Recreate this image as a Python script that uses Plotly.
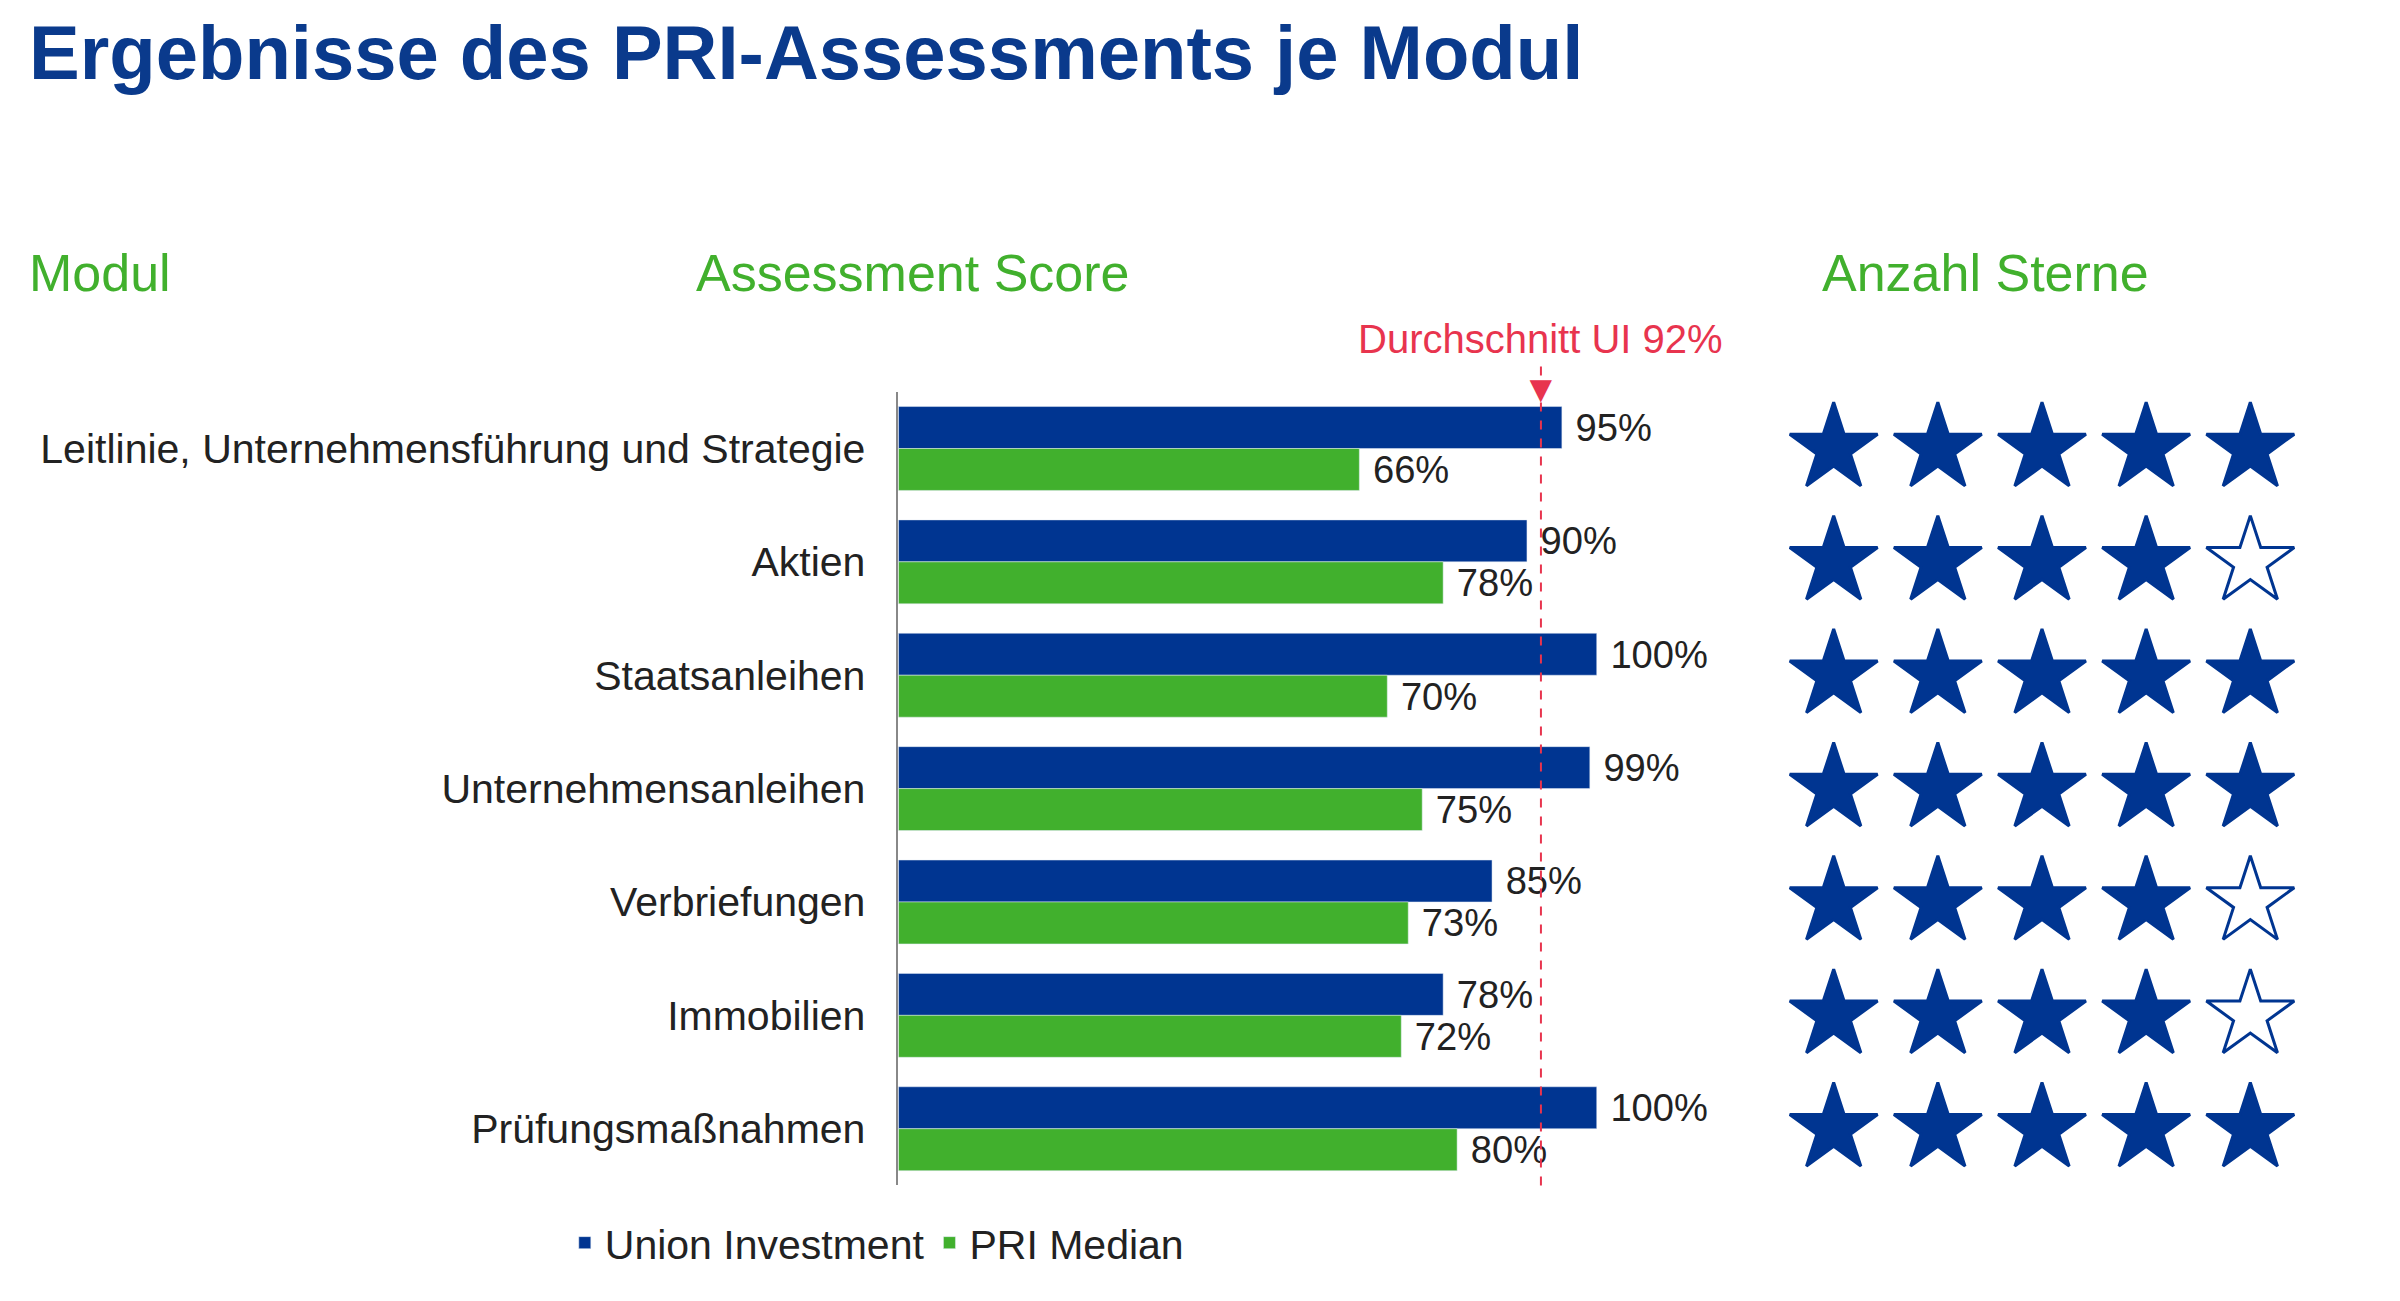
import plotly.graph_objects as go

# data
module = ["Leitlinie, Unternehmensführung und Strategie", "Aktien", "Staatsanleihen",
          "Unternehmensanleihen", "Verbriefungen", "Immobilien", "Prüfungsmaßnahmen"]
union = [95, 90, 100, 99, 85, 78, 100]
median = [66, 78, 70, 75, 73, 72, 80]
sterne = [5, 4, 5, 5, 4, 4, 5]
durchschnitt = 92

BLUE = "#003591"
GREEN = "#41b02d"
RED = "#e8344e"

fig = go.Figure()
fig.add_trace(go.Bar(name="Union Investment", y=module, x=union, orientation="h",
                     marker_color=BLUE, text=[f" {v}%" for v in union],
                     textposition="outside", textfont=dict(size=40, color="#222"),
                     cliponaxis=False))
fig.add_trace(go.Bar(name="PRI Median", y=module, x=median, orientation="h",
                     marker_color=GREEN, text=[f" {v}%" for v in median],
                     textposition="outside", textfont=dict(size=40, color="#222"),
                     cliponaxis=False))

# stars
for i, m in enumerate(module):
    xs = list(range(1, 6))
    syms = ["star" if k <= sterne[i] else "star-open" for k in xs]
    fig.add_trace(go.Scatter(x=xs, y=[m] * 5, mode="markers", xaxis="x2",
                             marker=dict(symbol=syms, size=66, color=BLUE,
                                         line=dict(color=BLUE, width=3)),
                             showlegend=False, hoverinfo="skip", cliponaxis=False))

# average line
fig.add_shape(type="line", x0=durchschnitt, x1=durchschnitt, xref="x",
              y0=0.095, y1=0.725, yref="paper", line=dict(color=RED, width=2, dash="dash"))
fig.add_annotation(x=durchschnitt, xref="x", y=0.725, yref="paper", text="▼",
                   showarrow=False, font=dict(size=38, color=RED))
fig.add_annotation(x=durchschnitt, xref="x", y=0.764, yref="paper",
                   text="Durchschnitt UI 92%", showarrow=False,
                   font=dict(size=40, color=RED))

# headers
for txt, xx in [("Modul", 0.008), ("Assessment Score", 0.286), ("Anzahl Sterne", 0.755)]:
    fig.add_annotation(x=xx, y=0.796, xref="paper", yref="paper", xanchor="left",
                       yanchor="middle", text=txt, showarrow=False,
                       font=dict(size=52, color=GREEN))
fig.add_annotation(x=0.008, y=1.0, xref="paper", yref="paper", xanchor="left",
                   yanchor="top", text="<b>Ergebnisse des PRI-Assessments je Modul</b>",
                   showarrow=False, font=dict(size=76, color="#0a3a8c"))

fig.update_layout(
    width=2400, height=1301,
    font=dict(family="Liberation Sans, Arial", size=40, color="#222"),
    paper_bgcolor="white", plot_bgcolor="white",
    margin=dict(l=0, r=0, t=0, b=0),
    barmode="group", bargap=0.26, bargroupgap=0,
    xaxis=dict(domain=[0.371, 0.662], range=[0, 100], visible=False),
    xaxis2=dict(domain=[0.739, 0.956], range=[0.5, 5.5], visible=False, anchor="y"),
    yaxis=dict(domain=[0.095, 0.705], range=[6.5, -0.5], autorange=False, showline=True,
               linecolor="#888", linewidth=2, ticks="", ticksuffix="  ",
               tickfont=dict(size=41)),
    legend=dict(orientation="h", x=0.232, y=0.025, xanchor="left", yanchor="bottom",
                font=dict(size=41), itemwidth=30),
)

fig.write_html("out.html")
